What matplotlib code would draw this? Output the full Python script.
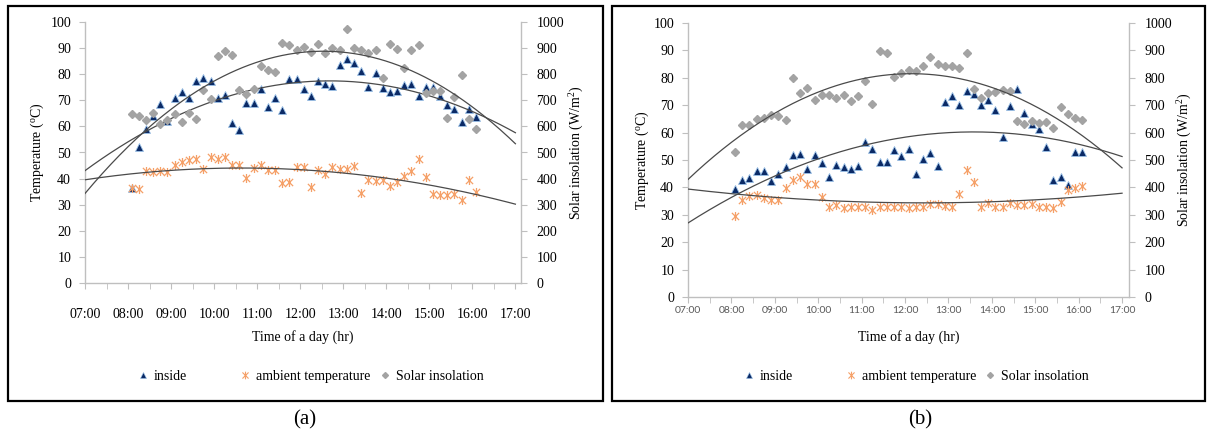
import numpy as np
import matplotlib
matplotlib.use('Agg')
import matplotlib.pyplot as plt
from matplotlib.path import Path
from matplotlib.lines import Line2D
from matplotlib.patches import Rectangle

# 字体设置（Times 风格）
plt.rcParams['font.family'] = ['Liberation Serif', 'DejaVu Serif']
plt.rcParams['mathtext.fontset'] = 'stix'

# ---- data ----
times = ["08:05", "08:15", "08:25", "08:35", "08:45", "08:55",
         "09:05", "09:15", "09:25", "09:35", "09:45", "09:55",
         "10:05", "10:15", "10:25", "10:35", "10:45", "10:55",
         "11:05", "11:15", "11:25", "11:35", "11:45", "11:55",
         "12:05", "12:15", "12:25", "12:35", "12:45", "12:55",
         "13:05", "13:15", "13:25", "13:35", "13:45", "13:55",
         "14:05", "14:15", "14:25", "14:35", "14:45", "14:55",
         "15:05", "15:15", "15:25", "15:35", "15:45", "15:55",
         "16:05"]

# panel (a)
inside_a = [36.3, 52.2, 58.9, 64.1, 68.5, 62.0, 71.0, 73.1, 71.0, 77.4, 78.4, 77.4,
            71.0, 72.0, 61.2, 58.5, 69.1, 69.1, 74.2, 67.3, 71.0, 66.3, 78.2, 78.2,
            74.3, 71.6, 77.5, 76.2, 75.6, 83.5, 85.8, 84.3, 81.2, 75.2, 80.5, 74.8,
            73.3, 73.6, 76.0, 76.1, 71.5, 75.1, 75.1, 71.6, 68.3, 66.6, 61.6, 66.6,
            63.5]
ambient_a = [36.5, 36.0, 42.9, 42.7, 43.0, 42.7, 45.2, 46.2, 47.1, 47.5, 43.5, 48.3,
             47.5, 48.3, 45.2, 45.4, 40.1, 44.2, 45.2, 43.2, 43.2, 38.4, 38.8, 44.3,
             44.3, 36.7, 43.4, 41.9, 44.3, 43.6, 43.6, 44.7, 34.5, 39.6, 39.2, 39.6,
             37.1, 38.6, 40.9, 43.1, 47.4, 40.5, 34.1, 33.7, 33.7, 34.1, 31.9, 39.6,
             35.0]
solar_a = [648, 638, 625, 650, 609, 623, 646, 617, 651, 627, 738, 705,
           868, 888, 872, 740, 723, 742, 830, 817, 808, 920, 911, 894,
           905, 884, 916, 880, 902, 893, 973, 902, 893, 881, 891, 787,
           915, 896, 825, 893, 910, 727, 734, 736, 631, 714, 797, 629,
           590]

# panel (b)
inside_b = [39.3, 42.7, 43.3, 46.0, 46.0, 42.3, 44.8, 47.6, 51.8, 52.3, 46.7, 51.8,
            48.8, 43.8, 48.3, 47.6, 46.6, 47.8, 56.7, 53.9, 49.4, 49.4, 53.5, 51.5,
            54.1, 44.8, 50.3, 52.4, 47.8, 71.3, 73.5, 70.1, 75.2, 74.0, 70.1, 71.9,
            68.2, 58.5, 69.8, 75.9, 67.0, 63.3, 61.2, 54.6, 42.7, 43.7, 40.9, 52.8,
            52.8]
ambient_b = [29.6, 35.3, 36.7, 37.2, 36.2, 35.4, 35.4, 39.7, 42.7, 43.7, 41.1, 41.1,
             36.4, 33.0, 33.6, 32.4, 33.0, 33.0, 33.0, 31.8, 33.0, 33.0, 33.0, 33.0,
             32.4, 33.0, 33.0, 33.8, 33.8, 33.2, 32.7, 37.5, 46.4, 41.9, 32.7, 34.4,
             33.0, 33.0, 34.2, 33.4, 33.6, 34.0, 33.0, 32.7, 32.4, 34.8, 39.0, 39.9,
             40.5]
solar_b = [530, 628, 628, 650, 652, 664, 662, 646, 798, 745, 762, 720,
           737, 737, 725, 737, 716, 732, 788, 704, 899, 892, 804, 819,
           827, 825, 844, 875, 850, 844, 843, 835, 892, 759, 728, 743,
           747, 755, 752, 642, 630, 642, 634, 640, 618, 695, 668, 653,
           645]

hour_ticks = ["07:00", "08:00", "09:00", "10:00", "11:00", "12:00",
              "13:00", "14:00", "15:00", "16:00", "17:00"]

NAVY = '#0b2a66'
EDGE = '#9cc2e8'
ORANGE = '#f5a068'
GRAY = '#a3a3a3'
TREND = '#4a4a4a'
AXC = '#bfbfbf'

W, H = 1210, 436

# Excel 风格的星号标记：X 加竖线
STAR = Path([(-1, -1), (1, 1), (-1, 1), (1, -1), (0, -1.25), (0, 1.25)],
            [Path.MOVETO, Path.LINETO, Path.MOVETO, Path.LINETO, Path.MOVETO, Path.LINETO])


def to_hours(labels):
    return np.array([int(s[:2]) + int(s[3:]) / 60 for s in labels])


def draw_panel(fig, box, xmax, inside, ambient, solar, excel_ticks, lab):
    x0, y0, x1, y1 = box  # pixel box of the plot area
    ax = fig.add_axes([x0 / W, 1 - y1 / H, (x1 - x0) / W, (y1 - y0) / H])
    ax2 = ax.twinx()
    t = to_hours(times)

    ax.plot(t, inside, ls='none', marker='^', ms=5.6, mfc=NAVY, mec=EDGE, mew=0.6, zorder=3)
    ax.plot(t, ambient, ls='none', marker=STAR, ms=6.5, mfc='none', mec=ORANGE, mew=0.9, zorder=3)
    ax2.plot(t, solar, ls='none', marker='D', ms=3.9, color=GRAY, zorder=2)

    # 二次多项式趋势线 (07:00 - 17:00)
    tt = np.linspace(7, 17, 200)
    for series, a in ((inside, ax), (ambient, ax), (solar, ax2)):
        c = np.polyfit(t, series, 2)
        a.plot(tt, np.polyval(c, tt), color=TREND, lw=0.9, zorder=4)

    ax.set_xlim(7, xmax)
    ax.set_ylim(0, 100)
    ax2.set_ylim(0, 1000)
    ax.set_yticks(np.arange(0, 101, 10))
    ax2.set_yticks(np.arange(0, 1001, 100))
    ax.set_xticks(to_hours(hour_ticks))
    ax.set_xticks(np.arange(7.5, 17, 1.0), minor=True)
    ax.set_xticklabels(hour_ticks)

    for a in (ax, ax2):
        for s in a.spines.values():
            s.set_visible(False)
    ax.spines['left'].set_visible(True)
    ax.spines['bottom'].set_visible(True)
    ax2.spines['right'].set_visible(True)
    for s in (ax.spines['left'], ax.spines['bottom'], ax2.spines['right']):
        s.set_color(AXC)
        s.set_linewidth(1.0)

    ax.tick_params(axis='y', direction='out', length=4, color=AXC, labelsize=10, pad=6)
    ax2.tick_params(axis='y', direction='out', length=4, color=AXC, labelsize=10, pad=7)
    ax.tick_params(axis='x', which='both', direction='out', length=4, color=AXC)
    if excel_ticks:
        ax.tick_params(axis='x', labelsize=7.5, labelcolor='#595959', pad=2.5)
        for tl in ax.get_xticklabels():
            tl.set_fontfamily('Lato')
    else:
        ax.tick_params(axis='x', labelsize=10, pad=14)

    ph = y1 - y0
    ax.set_xlabel('Time of a day (hr)', fontsize=10)
    ax.xaxis.label.set_va('center')
    ax.xaxis.set_label_coords(0.5, -(337 - y1) / ph)
    ax.set_ylabel('Temperature ($\\mathregular{^{o}}$C)', fontsize=10)
    ax.yaxis.label.set_va('center')
    ax.yaxis.set_label_coords(lab[0], 0.5)
    ax2.set_ylabel('Solar insolation (W/m$\\mathregular{^{2}}$)', fontsize=10)
    ax2.yaxis.label.set_va('center')
    ax2.yaxis.set_label_coords(lab[1], 0.5)
    return ax


def add_legend(fig, xs, y):
    handles = [
        Line2D([], [], ls='none', marker='^', ms=4.5, mfc=NAVY, mec=EDGE, mew=0.4),
        Line2D([], [], ls='none', marker=STAR, ms=5.5, mfc='none', mec=ORANGE, mew=0.8),
        Line2D([], [], ls='none', marker='D', ms=3.0, color=GRAY),
    ]
    labels = ['inside', 'ambient temperature', 'Solar insolation']
    for h, l, x in zip(handles, labels, xs):
        fig.legend(handles=[h], labels=[l], loc='center left',
                   bbox_to_anchor=((x - 4) / W, 1 - y / H), frameon=False,
                   handlelength=0.6, handletextpad=0.45, borderaxespad=0,
                   borderpad=0, fontsize=10)


def main():
    fig = plt.figure(figsize=(W / 100, H / 100), dpi=100)

    draw_panel(fig, (85, 22, 521, 283), 17.13, inside_a, ambient_a, solar_a,
               False, (-0.110, 1.128))
    draw_panel(fig, (688, 23, 1129, 297), 17.16, inside_b, ambient_b, solar_b,
               True, (-0.104, 1.127))

    add_legend(fig, (143, 245, 385), 376)
    add_legend(fig, (749, 851, 990), 376)

    # 面板边框
    for (bx0, by0, bx1, by1) in ((8, 6, 603, 401), (612, 6, 1205, 401)):
        fig.add_artist(Rectangle((bx0 / W, 1 - by1 / H), (bx1 - bx0) / W, (by1 - by0) / H,
                                 transform=fig.transFigure, fill=False,
                                 ec='black', lw=1.6))

    fig.text(305 / W, 1 - 420 / H, '(a)', ha='center', va='center', fontsize=15)
    fig.text(920 / W, 1 - 420 / H, '(b)', ha='center', va='center', fontsize=15)

    fig.savefig('out.png', dpi=100)


if __name__ == "__main__":
    main()
